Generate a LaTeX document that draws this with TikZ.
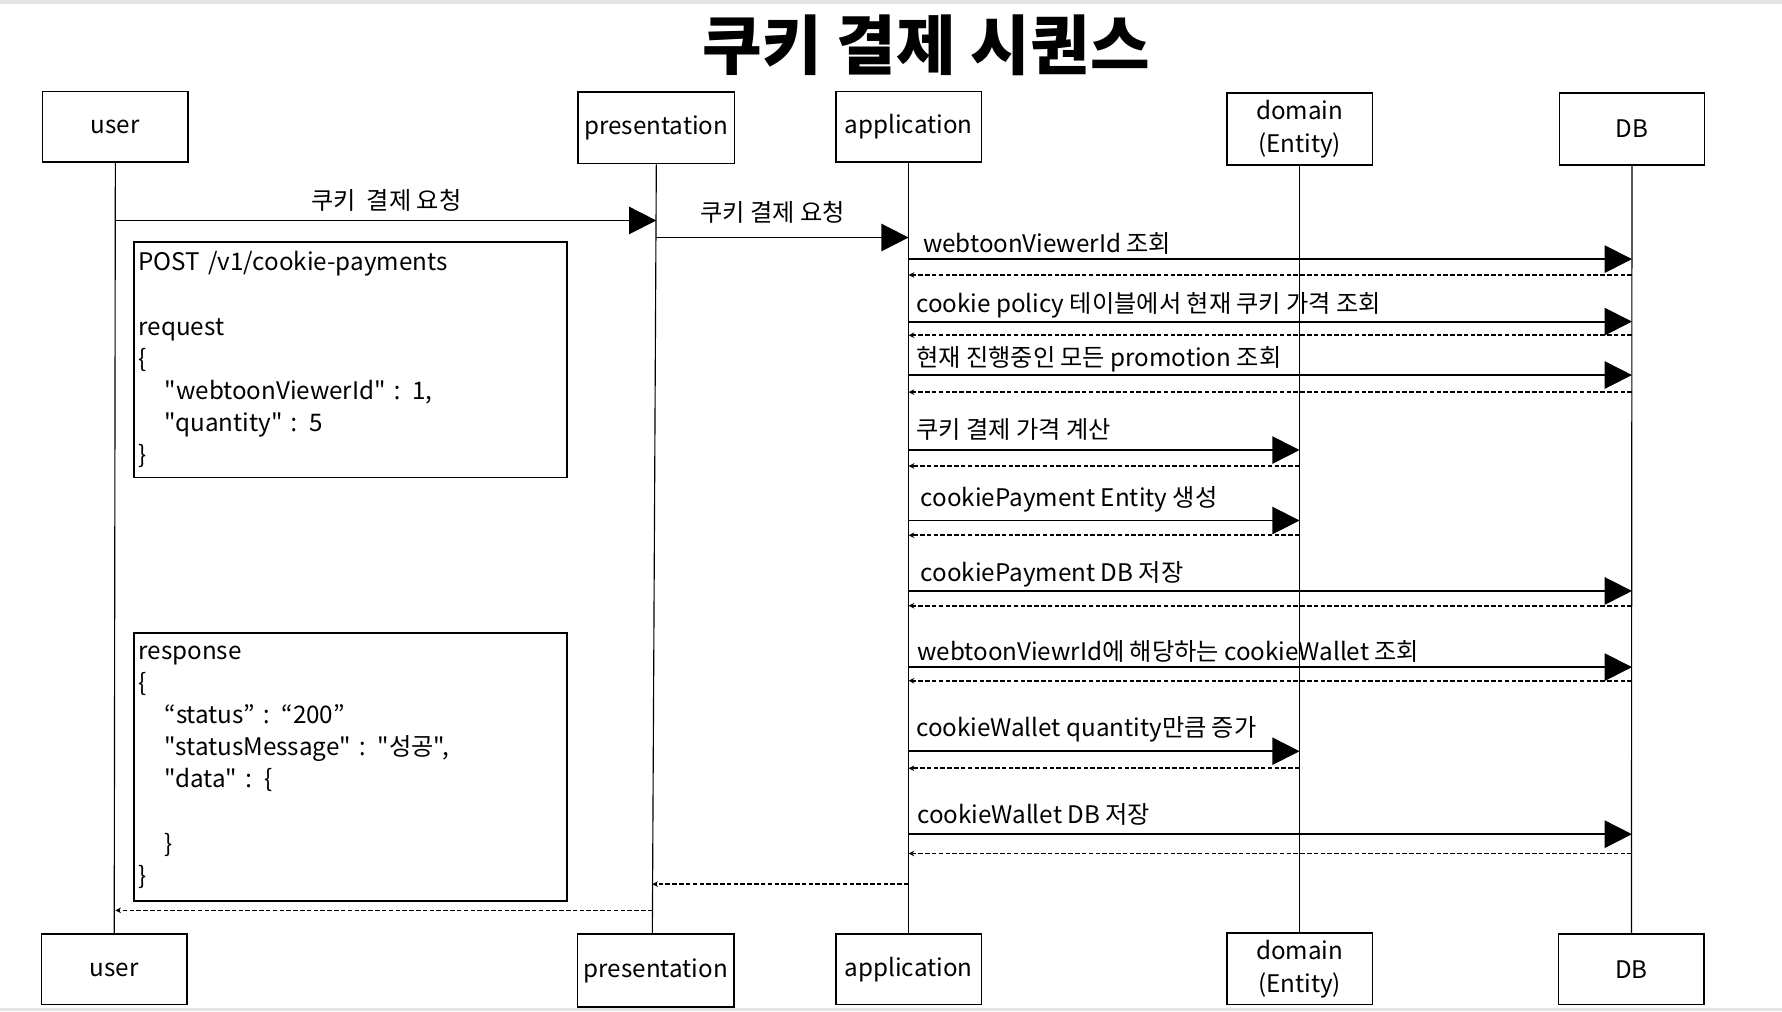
\documentclass[tikz,border=0pt]{standalone}
\usepackage{fontspec}
\setmainfont{Noto Sans CJK KR}[Ligatures=TeXOff]
\newfontfamily\nsans{Noto Sans}
\newcommand{\cln}{{\nsans:}}
\usetikzlibrary{arrows.meta}
\begin{document}
\begin{tikzpicture}[x=1pt,y=-1pt,
  box/.style={draw, line width=1.3pt, minimum width=128pt, minimum height=62pt, inner sep=0pt, align=center, font=\fontsize{21.3}{29}\selectfont},
  life/.style={line width=1pt},
  msg/.style={line width=1.6pt, -{Triangle[length=24pt,width=24pt]}},
  ret/.style={line width=1.4pt, dash pattern=on 4pt off 2pt, -{Stealth[length=5pt,width=5pt]}},
  lbl/.style={anchor=west, inner sep=0pt, font=\fontsize{21.3}{24}\selectfont},
  note/.style={draw, line width=1.3pt, minimum width=381pt, text width=373pt, align=left, inner sep=4pt, font=\fontsize{21.3}{28.3}\selectfont}
]
\useasboundingbox (0,0) rectangle (1568,890);
\fill[white] (0,0) rectangle (1568,890);
\fill[black!10] (0,0) rectangle (1568,3.5);
\fill[black!10] (0,887) rectangle (1568,890);

\node[font=\bfseries\fontsize{57}{64}\selectfont, inner sep=0pt] (title) at (815,40) {쿠키 결제 시퀀스};

% top actors
\node[box] (utop) at (101.5,111.5) {user};
\node[box, minimum width=138pt, minimum height=63pt] (ptop) at (577.5,112.5) {presentation};
\node[box] (atop) at (799.5,111.5) {application};
\node[box, minimum height=63pt] (dtop) at (1143.5,113.5) {domain\\(Entity)};
\node[box, minimum height=63pt] (dbtop) at (1436,113.5) {DB};
% bottom actors
\node[box] (ubot) at (100.5,853) {user};
\node[box, minimum width=138pt, minimum height=64pt] (pbot) at (577,854) {presentation};
\node[box] (abot) at (799.5,853) {application};
\node[box, minimum height=63pt] (dbot) at (1143.5,852.5) {domain\\(Entity)};
\node[box] (dbbot) at (1435.5,853) {DB};

% lifelines
\coordinate (pend) at (574,822);
\draw[life] (utop.south) -- (ubot.north);
\draw[life] (ptop.south) -- (pend);
\draw[life] (atop.south) -- (abot.north);
\draw[life] (dtop.south) -- (dbot.north);
\draw[life] (dbtop.south) -- (dbbot.north);

% notes
\node[note, minimum height=207pt] (req) at (308.5,316.5) {POST /v1/cookie-payments\\[28.3pt]
request\\
\{\\
\hspace*{23pt}"webtoonViewerId" \cln{} 1,\\
\hspace*{23pt}"quantity" \cln{} 5\\
\}};
\node[note, minimum height=236pt] (res) at (308.5,675) {response\\
\{\\
\hspace*{23pt}“status” \cln{} “200”\\
\hspace*{23pt}"statusMessage" \cln{} "성공",\\
\hspace*{23pt}"data" \cln{} \{\\[28.3pt]
\hspace*{23pt}\}\\
\}};

% messages
\draw[msg] (utop |- 0,194) -- (ptop |- 0,194);
\node[lbl, anchor=center] (l1) at (340,176) {쿠키\ \ 결제 요청};
\draw[msg] (ptop |- 0,209) -- (atop |- 0,209);
\node[lbl, anchor=center] (l2) at (680,187) {쿠키 결제 요청};

\draw[msg] (atop |- 0,228) -- (dbtop |- 0,228);
\node[lbl] (l3) at (812,214) {webtoonViewerId 조회};
\draw[ret] (dbtop |- 0,242) -- (atop |- 0,242);

\draw[msg] (atop |- 0,283) -- (dbtop |- 0,283);
\node[lbl] (l4) at (806,269) {cookie policy 테이블에서 현재 쿠키 가격 조회};
\draw[ret] (dbtop |- 0,295) -- (atop |- 0,295);

\draw[msg] (atop |- 0,330) -- (dbtop |- 0,330);
\node[lbl] (l5) at (806,316) {현재 진행중인 모든 promotion 조회};
\draw[ret] (dbtop |- 0,345) -- (atop |- 0,345);

\draw[msg] (atop |- 0,396) -- (dtop |- 0,396);
\node[lbl] (l6) at (806,378) {쿠키 결제 가격 계산};
\draw[ret] (dtop |- 0,410) -- (atop |- 0,410);

\draw[msg] (atop |- 0,458) -- (dtop |- 0,458);
\node[lbl] (l7) at (810,439) {cookiePayment Entity 생성};
\draw[ret] (dtop |- 0,471) -- (atop |- 0,471);

\draw[msg] (atop |- 0,520) -- (dbtop |- 0,520);
\node[lbl] (l8) at (810,505) {cookiePayment DB 저장};
\draw[ret] (dbtop |- 0,533) -- (atop |- 0,533);

\draw[msg] (atop |- 0,587) -- (dbtop |- 0,587);
\node[lbl] (l9) at (807,573) {webtoonViewrId에 해당하는 cookieWallet 조회};
\draw[ret] (dbtop |- 0,599) -- (atop |- 0,599);

\draw[msg] (atop |- 0,661) -- (dtop |- 0,661);
\node[lbl] (l10) at (806,642) {cookieWallet quantity만큼 증가};
\draw[ret] (dtop |- 0,676) -- (atop |- 0,676);

\draw[msg] (atop |- 0,734) -- (dbtop |- 0,734);
\node[lbl] (l11) at (807,717) {cookieWallet DB 저장};
\draw[ret] (dbtop |- 0,751) -- (atop |- 0,751);

\draw[ret] (atop |- 0,778) -- (pend |- 0,778);
\draw[ret] (pend |- 0,801) -- (utop |- 0,801);
\end{tikzpicture}
\end{document}
